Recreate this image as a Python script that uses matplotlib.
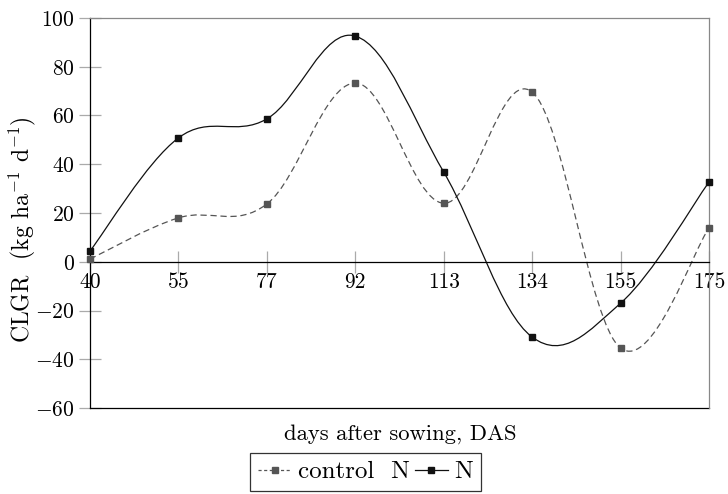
import matplotlib
matplotlib.use('Agg')
import matplotlib.pyplot as plt
from matplotlib.path import Path
from matplotlib.patches import PathPatch
from matplotlib.lines import Line2D

plt.rcParams['font.family'] = 'serif'
plt.rcParams['font.serif'] = ['cmr10']
plt.rcParams['mathtext.fontset'] = 'cm'
plt.rcParams['axes.formatter.use_mathtext'] = True

days = ['40', '55', '77', '92', '113', '134', '155', '175']
control = [1.1, 18, 23.7, 73.3, 24, 69.6, -35.4, 13.8]
n_vals = [4.4, 50.8, 58.6, 92.6, 36.8, -30.9, -17, 32.7]


def smooth_path(xs, ys, t=0.18):
    # catmull-rom style bezier, like pgfplots "smooth"
    pts = list(zip(xs, ys))
    verts = [pts[0]]
    codes = [Path.MOVETO]
    n = len(pts)
    for i in range(n - 1):
        p0 = pts[i - 1] if i > 0 else pts[i]
        p1 = pts[i]
        p2 = pts[i + 1]
        p3 = pts[i + 2] if i + 2 < n else pts[i + 1]
        c1 = (p1[0] + t * (p2[0] - p0[0]), p1[1] + t * (p2[1] - p0[1]))
        c2 = (p2[0] - t * (p3[0] - p1[0]), p2[1] - t * (p3[1] - p1[1]))
        verts += [c1, c2, p2]
        codes += [Path.CURVE4] * 3
    return Path(verts, codes)


fig = plt.figure(figsize=(7.28, 4.94), dpi=100)
ax = fig.add_axes([90 / 728, 1 - 408 / 494, 619 / 728, 390 / 494])

x = list(range(len(days)))
ax.add_patch(PathPatch(smooth_path(x, control), facecolor='none', edgecolor='#555555',
                       lw=0.9, ls=(0, (5, 3)), zorder=2))
ax.add_patch(PathPatch(smooth_path(x, n_vals), facecolor='none', edgecolor='#111111',
                       lw=0.9, zorder=2))
ax.plot(x, control, ls='none', marker='s', ms=4.5, color='#555555', zorder=3, clip_on=False)
ax.plot(x, n_vals, ls='none', marker='s', ms=4.5, color='#111111', zorder=3, clip_on=False)

ax.set_xlim(0, len(days) - 1)
ax.set_ylim(-60, 100)
ax.set_xticks(x)
ax.set_xticklabels(days)
ax.set_yticks(range(-60, 101, 20))

ax.spines['bottom'].set_position(('data', 0))
ax.axhline(-60, color='black', lw=0.9, clip_on=False)
for s in ax.spines.values():
    s.set_linewidth(0.9)
ax.spines['top'].set_color('#888888')
ax.spines['right'].set_color('#888888')
ax.tick_params(axis='both', direction='inout', length=16, width=0.9, color='#aaaaaa',
               labelsize=15.5)
ax.tick_params(axis='x', pad=0)
ax.tick_params(axis='y', pad=3)

fig.text(22 / 728, 1 - 230 / 494, r'CLGR  (kg ha$^{-1}$ d$^{-1}$)', rotation=90,
         ha='center', va='center', fontsize=17)
fig.text(400 / 728, 1 - 434 / 494, 'days after sowing, DAS', ha='center', va='center',
         fontsize=16.3)

h1 = Line2D([], [], color='#555555', ls=(0, (2.5, 2)), lw=0.9, marker='s', ms=4.5)
h2 = Line2D([], [], color='#111111', lw=0.9, marker='s', ms=4.5)
leg = fig.legend([h1, h2], ['control  N', 'N'], loc='center', ncol=2,
                 bbox_to_anchor=(365.5 / 728, 1 - 472 / 494), fontsize=18, frameon=True,
                 fancybox=False, handlelength=1.35, handletextpad=0.25, columnspacing=0.2,
                 borderpad=0.3, borderaxespad=0, edgecolor='black')
leg.get_frame().set_linewidth(0.9)

fig.savefig('out.png', dpi=100)
